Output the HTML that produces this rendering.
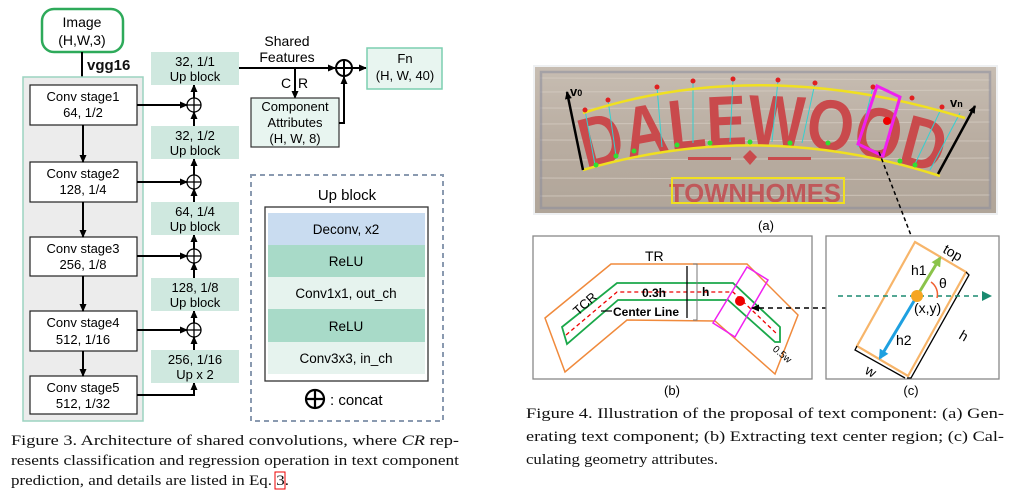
<!DOCTYPE html>
<html><head><meta charset="utf-8"><style>
html,body{margin:0;padding:0;background:#fff;}
svg{display:block;}
text{font-family:"Liberation Sans",sans-serif;}
.s{font-family:"Liberation Serif",serif;font-size:15px;fill:#111;}
</style></head><body>
<svg width="1015" height="498" viewBox="0 0 1015 498" xmlns="http://www.w3.org/2000/svg">
<defs>
<marker id="a" markerWidth="8" markerHeight="8" refX="7" refY="4" orient="auto" markerUnits="userSpaceOnUse"><path d="M0,0.5 L8,4 L0,7.5 z" fill="#000"/></marker>
<marker id="g" markerWidth="10" markerHeight="10" refX="8" refY="5" orient="auto" markerUnits="userSpaceOnUse"><path d="M0,0 L10,5 L0,10 z" fill="#8bc34a"/></marker>
<marker id="b" markerWidth="10" markerHeight="10" refX="8" refY="5" orient="auto" markerUnits="userSpaceOnUse"><path d="M0,0 L10,5 L0,10 z" fill="#1ea0e0"/></marker>
<marker id="t" markerWidth="10" markerHeight="10" refX="8" refY="5" orient="auto" markerUnits="userSpaceOnUse"><path d="M0,0 L10,5 L0,10 z" fill="#1a8a70"/></marker>
<linearGradient id="wood" x1="0" y1="0" x2="0" y2="1">
<stop offset="0" stop-color="#c7bdb2"/><stop offset="0.5" stop-color="#b9ada1"/><stop offset="1" stop-color="#b0a599"/></linearGradient>
</defs>

<!-- LEFT FIGURE -->
<rect x="42" y="9" width="81" height="43" rx="12" fill="#fff" stroke="#2eaa5a" stroke-width="2.5"/>
<text x="82" y="27" font-size="14" text-anchor="middle">Image</text>
<text x="82" y="45" font-size="14" text-anchor="middle">(H,W,3)</text>
<line x1="82" y1="52" x2="82" y2="85" stroke="#000" stroke-width="2" marker-end="url(#a)"/>
<text x="87" y="70" font-size="15" font-weight="bold" fill="#111">vgg16</text>
<rect x="23" y="77" width="120" height="344" fill="#ececec" stroke="#9cd3c0" stroke-width="1.5"/>

<g font-size="13" text-anchor="middle">
<rect x="30" y="85" width="107" height="40" fill="#fff" stroke="#222" stroke-width="1.2"/>
<text x="83" y="101">Conv stage1</text><text x="83" y="117">64, 1/2</text>
<rect x="30" y="162" width="107" height="40" fill="#fff" stroke="#222" stroke-width="1.2"/>
<text x="83" y="178">Conv stage2</text><text x="83" y="194">128, 1/4</text>
<rect x="30" y="237" width="107" height="39" fill="#fff" stroke="#222" stroke-width="1.2"/>
<text x="83" y="253">Conv stage3</text><text x="83" y="269">256, 1/8</text>
<rect x="30" y="311" width="107" height="40" fill="#fff" stroke="#222" stroke-width="1.2"/>
<text x="83" y="327">Conv stage4</text><text x="83" y="344">512, 1/16</text>
<rect x="30" y="376" width="107" height="38" fill="#fff" stroke="#222" stroke-width="1.2"/>
<text x="83" y="392">Conv stage5</text><text x="83" y="408">512, 1/32</text>
</g>
<g stroke="#000" stroke-width="2" marker-end="url(#a)">
<line x1="83" y1="125" x2="83" y2="162"/>
<line x1="83" y1="202" x2="83" y2="237"/>
<line x1="83" y1="276" x2="83" y2="311"/>
<line x1="83" y1="351" x2="83" y2="376"/>
<line x1="137" y1="105" x2="187" y2="105"/>
<line x1="137" y1="182" x2="187" y2="182"/>
<line x1="137" y1="256" x2="187" y2="256"/>
<line x1="137" y1="330" x2="187" y2="330"/>
<polyline points="137,395 194,395 194,383" fill="none"/>
<line x1="194" y1="350" x2="194" y2="337"/>
<line x1="194" y1="323" x2="194" y2="311"/>
<line x1="194" y1="278" x2="194" y2="263"/>
<line x1="194" y1="249" x2="194" y2="235"/>
<line x1="194" y1="202" x2="194" y2="189"/>
<line x1="194" y1="175" x2="194" y2="159"/>
<line x1="194" y1="126" x2="194" y2="112"/>
<line x1="194" y1="98" x2="194" y2="85"/>
</g>
<g fill="#fff" stroke="#000" stroke-width="1.3">
<circle cx="194" cy="105" r="7"/><circle cx="194" cy="182" r="7"/><circle cx="194" cy="256" r="7"/><circle cx="194" cy="330" r="7"/>
</g>
<g stroke="#000" stroke-width="1.3">
<line x1="187" y1="105" x2="201" y2="105"/><line x1="194" y1="98" x2="194" y2="112"/>
<line x1="187" y1="182" x2="201" y2="182"/><line x1="194" y1="175" x2="194" y2="189"/>
<line x1="187" y1="256" x2="201" y2="256"/><line x1="194" y1="249" x2="194" y2="263"/>
<line x1="187" y1="330" x2="201" y2="330"/><line x1="194" y1="323" x2="194" y2="337"/>
</g>
<g font-size="13" text-anchor="middle">
<rect x="151" y="52" width="88" height="33" fill="#cfe8df"/>
<text x="195" y="66">32, 1/1</text><text x="195" y="81">Up block</text>
<rect x="151" y="126" width="88" height="33" fill="#cfe8df"/>
<text x="195" y="140">32, 1/2</text><text x="195" y="155">Up block</text>
<rect x="151" y="202" width="88" height="33" fill="#cfe8df"/>
<text x="195" y="216">64, 1/4</text><text x="195" y="231">Up block</text>
<rect x="151" y="278" width="88" height="33" fill="#cfe8df"/>
<text x="195" y="292">128, 1/8</text><text x="195" y="307">Up block</text>
<rect x="151" y="350" width="88" height="33" fill="#cfe8df"/>
<text x="195" y="364">256, 1/16</text><text x="195" y="379">Up x 2</text>
</g>
<text x="287" y="46" font-size="14" text-anchor="middle">Shared</text>
<text x="287" y="62" font-size="14" text-anchor="middle">Features</text>
<line x1="239" y1="68" x2="335" y2="68" stroke="#000" stroke-width="2" marker-end="url(#a)"/>
<circle cx="344" cy="68" r="8" fill="#fff" stroke="#000" stroke-width="2"/>
<line x1="336" y1="68" x2="352" y2="68" stroke="#000" stroke-width="2"/>
<line x1="344" y1="60" x2="344" y2="76" stroke="#000" stroke-width="2"/>
<line x1="352" y1="68" x2="366" y2="68" stroke="#000" stroke-width="2" marker-end="url(#a)"/>
<rect x="367" y="48" width="75" height="41" fill="#e8f5f0" stroke="#7ccfb0" stroke-width="1.5"/>
<text x="405" y="63" font-size="13" text-anchor="middle">Fn</text>
<text x="405" y="80" font-size="13" text-anchor="middle">(H, W, 40)</text>
<text x="281" y="88" font-size="14">C</text><text x="298" y="88" font-size="14">R</text>
<line x1="295" y1="68" x2="295" y2="98" stroke="#000" stroke-width="2" marker-end="url(#a)"/>
<rect x="251" y="98" width="88" height="49" fill="#e8f5f0" stroke="#333" stroke-width="1.2"/>
<text x="295" y="111" font-size="13" text-anchor="middle">Component</text>
<text x="295" y="127" font-size="13" text-anchor="middle">Attributes</text>
<text x="295" y="143" font-size="13" text-anchor="middle">(H, W, 8)</text>
<polyline points="339,123 344,123 344,77" fill="none" stroke="#000" stroke-width="2" marker-end="url(#a)"/>

<rect x="251" y="175" width="192" height="246" fill="none" stroke="#8a9ab0" stroke-width="2" stroke-dasharray="5,4"/>
<text x="347" y="200" font-size="15" text-anchor="middle">Up block</text>
<rect x="265" y="207" width="163" height="174" fill="#fff" stroke="#333" stroke-width="1.3"/>
<rect x="268" y="213" width="157" height="32" fill="#c9dcf0"/>
<rect x="268" y="245" width="157" height="32" fill="#a8dac8"/>
<rect x="268" y="277" width="157" height="32" fill="#e6f3ee"/>
<rect x="268" y="309" width="157" height="33" fill="#a8dac8"/>
<rect x="268" y="342" width="157" height="32" fill="#e6f3ee"/>
<g font-size="13.5" text-anchor="middle">
<text x="346" y="234">Deconv, x2</text>
<text x="346" y="266">ReLU</text>
<text x="346" y="298">Conv1x1, out_ch</text>
<text x="346" y="331">ReLU</text>
<text x="346" y="363">Conv3x3, in_ch</text>
</g>
<circle cx="315" cy="399" r="9" fill="none" stroke="#000" stroke-width="2.2"/>
<line x1="306" y1="399" x2="324" y2="399" stroke="#000" stroke-width="2.2"/>
<line x1="315" y1="390" x2="315" y2="408" stroke="#000" stroke-width="2.2"/>
<text x="330" y="405" font-size="15">: concat</text>

<text class="s" x="11" y="445" textLength="448" lengthAdjust="spacingAndGlyphs">Figure 3. Architecture of shared convolutions, where <tspan font-style="italic">CR</tspan> rep-</text>
<text class="s" x="11" y="465" textLength="448" lengthAdjust="spacingAndGlyphs">resents classification and regression operation in text component</text>
<text class="s" x="11" y="485" textLength="278" lengthAdjust="spacingAndGlyphs">prediction, and details are listed in Eq. 3.</text>
<rect x="275" y="472" width="10" height="17" fill="none" stroke="#e00" stroke-width="1"/>

<!-- RIGHT: photo (a) -->
<rect x="533" y="65" width="465" height="150" fill="#eef0f2"/>
<rect x="535" y="67" width="461" height="146" fill="url(#wood)"/>
<g stroke="#d8cfc5" stroke-width="1" opacity="0.7">
<line x1="540" y1="78" x2="990" y2="80"/><line x1="540" y1="92" x2="990" y2="90"/><line x1="540" y1="108" x2="990" y2="110"/><line x1="540" y1="124" x2="990" y2="122"/><line x1="540" y1="140" x2="990" y2="141"/><line x1="540" y1="160" x2="990" y2="158"/><line x1="540" y1="178" x2="990" y2="180"/><line x1="540" y1="196" x2="990" y2="195"/>
</g>
<rect x="541" y="72" width="449" height="136" fill="none" stroke="#8a8c9c" stroke-width="2.5" opacity="0.55"/>
<path id="arc" d="M586,170 Q760,118 946,176" fill="none"/>
<text font-family="Liberation Serif,serif" font-size="72" font-weight="bold" fill="#c94a4c"><textPath href="#arc" textLength="358" lengthAdjust="spacingAndGlyphs">DALEWOOD</textPath></text>
<g stroke="#35d0d0" stroke-width="1">
<line x1="585" y1="110" x2="595" y2="165"/><line x1="608" y1="100" x2="616" y2="156"/><line x1="657" y1="87" x2="662" y2="147"/><line x1="693" y1="81" x2="693" y2="143"/><line x1="733" y1="79" x2="730" y2="142"/><line x1="778" y1="80" x2="772" y2="142"/><line x1="815" y1="83" x2="802" y2="143"/><line x1="873" y1="87" x2="858" y2="147"/><line x1="942" y1="107" x2="914" y2="166"/><line x1="960" y1="113" x2="930" y2="170"/>
</g>
<path d="M583,113 Q760,55 965,118" fill="none" stroke="#f0e020" stroke-width="2.5"/>
<path d="M583,170 Q760,118 940,176" fill="none" stroke="#f0e020" stroke-width="2.5"/>
<g fill="#e02020"><circle cx="585" cy="110" r="2.5"/><circle cx="608" cy="100" r="2.5"/><circle cx="657" cy="87" r="2.5"/><circle cx="693" cy="81" r="2.5"/><circle cx="733" cy="79" r="2.5"/><circle cx="778" cy="80" r="2.5"/><circle cx="815" cy="83" r="2.5"/><circle cx="873" cy="87" r="2.5"/><circle cx="912" cy="98" r="2.5"/><circle cx="942" cy="107" r="2.5"/></g>
<g fill="#30e030"><circle cx="596" cy="165" r="2.5"/><circle cx="616" cy="156" r="2.5"/><circle cx="634" cy="151" r="2.5"/><circle cx="677" cy="145" r="2.5"/><circle cx="710" cy="143" r="2.5"/><circle cx="750" cy="142" r="2.5"/><circle cx="790" cy="143" r="2.5"/><circle cx="828" cy="143" r="2.5"/><circle cx="900" cy="161" r="2.5"/><circle cx="915" cy="165" r="2.5"/></g>
<rect x="688" y="157" width="43" height="3" fill="#c94a4c"/><rect x="768" y="157" width="43" height="3" fill="#c94a4c"/>
<polygon points="750,150 757,157 750,165 743,157" fill="#c94a4c"/>
<text x="755" y="202" font-family="Liberation Serif,serif" font-size="26" font-weight="bold" fill="#c0585a" text-anchor="middle" textLength="172" lengthAdjust="spacingAndGlyphs">TOWNHOMES</text>
<rect x="672" y="178" width="172" height="25" fill="none" stroke="#f0e020" stroke-width="2"/>
<line x1="583" y1="170" x2="567" y2="92" stroke="#000" stroke-width="2.5" marker-end="url(#a)"/>
<text x="570" y="96" font-size="13" font-weight="bold">v<tspan font-size="9">0</tspan></text>
<line x1="938" y1="174" x2="975" y2="106" stroke="#000" stroke-width="2.5" marker-end="url(#a)"/>
<text x="950" y="107" font-size="13" font-weight="bold">v<tspan font-size="9">n</tspan></text>
<polygon points="877,86 900,97 883,156 858,144" fill="none" stroke="#f020f0" stroke-width="3"/>
<circle cx="887" cy="121" r="4" fill="#e00"/>
<text x="766" y="230" font-size="13" text-anchor="middle">(a)</text>
<line x1="879" y1="152" x2="912" y2="238" stroke="#000" stroke-width="1.5" stroke-dasharray="4,3"/>

<!-- (b) -->
<rect x="533" y="236" width="279" height="143" fill="#fff" stroke="#888" stroke-width="1.3"/>
<polygon points="545,318 611,264 747,264 798,315 775,374 715,321 627,320 565,372" fill="none" stroke="#f08a3c" stroke-width="1.5"/>
<polygon points="562,327 617,283 733,283 780,327 780,342 775,342 728,300 618,300 567,344" fill="none" stroke="#1aa84a" stroke-width="1.8"/>
<polyline points="566,335 617,292 733,292 778,335" fill="none" stroke="#e00" stroke-width="1.3" stroke-dasharray="4,3"/>
<polygon points="747,267 768,280 735,337 713,323" fill="none" stroke="#f020f0" stroke-width="1.5"/>
<circle cx="740" cy="301" r="5" fill="#e00"/>
<line x1="872" y1="308" x2="752" y2="308" stroke="#000" stroke-width="1.5" stroke-dasharray="5,4" marker-end="url(#a)"/>
<line x1="687" y1="266" x2="687" y2="318" stroke="#000" stroke-width="1.3"/>
<polyline points="693,264 697,264 697,320 693,320" fill="none" stroke="#777"/>
<text x="645" y="261" font-size="14">TR</text>
<text x="578" y="316" font-size="13" transform="rotate(-42 578 316)">TCR</text>
<text x="642" y="297" font-size="12" font-weight="bold">0.3h</text>
<text x="702" y="296" font-size="12" font-weight="bold">h</text>
<line x1="601" y1="311" x2="612" y2="311" stroke="#000" stroke-width="1.2"/>
<text x="613" y="316" font-size="12" font-weight="bold">Center Line</text>
<text x="772" y="350" font-size="10" transform="rotate(40 772 350)">0.5w</text>
<text x="672" y="395" font-size="13" text-anchor="middle">(b)</text>

<!-- (c) -->
<rect x="826" y="236" width="173" height="143" fill="#fff" stroke="#888" stroke-width="1.3"/>
<polygon points="915,242 966,272 908,376 857,346" fill="none" stroke="#f7b56a" stroke-width="2.2"/>
<polyline points="966,272 969,275 911,378 907,378" fill="none" stroke="#000" stroke-width="1.3"/>
<polyline points="857,346 855,350 905,378" fill="none" stroke="#000" stroke-width="1.3"/>
<line x1="838" y1="296" x2="990" y2="296" stroke="#1a8a70" stroke-width="1.5" stroke-dasharray="5,4" marker-end="url(#t)"/>
<line x1="917" y1="296" x2="940" y2="258" stroke="#8bc34a" stroke-width="3" marker-end="url(#g)"/>
<line x1="917" y1="296" x2="880" y2="358" stroke="#1ea0e0" stroke-width="3" marker-end="url(#b)"/>
<path d="M931,282 A15,15 0 0 1 937,298" fill="none" stroke="#f06030" stroke-width="1.5"/>
<circle cx="917" cy="296" r="6" fill="#f5a623"/>
<text x="942" y="252" font-size="14" transform="rotate(30 942 252)">top</text>
<text x="911" y="275" font-size="14">h1</text>
<text x="939" y="288" font-size="14">θ</text>
<text x="914" y="313" font-size="14">(x,y)</text>
<text x="896" y="345" font-size="14">h2</text>
<text x="958" y="338" font-size="14" transform="rotate(30 958 338)">h</text>
<text x="864" y="373" font-size="14" transform="rotate(30 864 373)">w</text>
<text x="911" y="395" font-size="13" text-anchor="middle">(c)</text>

<text class="s" x="526" y="418" textLength="478" lengthAdjust="spacingAndGlyphs">Figure 4. Illustration of the proposal of text component: (a) Gen-</text>
<text class="s" x="526" y="441" textLength="478" lengthAdjust="spacingAndGlyphs">erating text component; (b) Extracting text center region; (c) Cal-</text>
<text class="s" x="526" y="464" textLength="192" lengthAdjust="spacingAndGlyphs">culating geometry attributes.</text>
</svg>
</body></html>
